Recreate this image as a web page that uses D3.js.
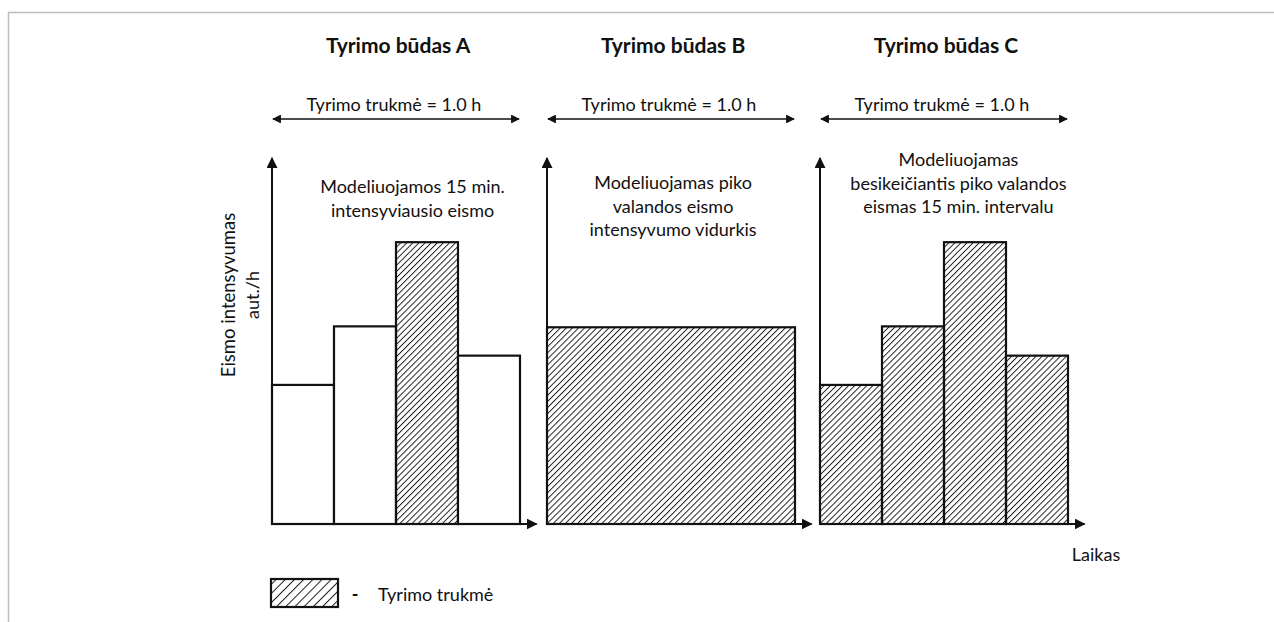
<!DOCTYPE html>
<html>
<head>
<meta charset="utf-8">
<title>Tyrimo būdai</title>
<script src="https://d3js.org/d3.v7.min.js"></script>
<style>
  body { margin: 0; background: #fff; }
  text { font-family: Lato, "Open Sans", sans-serif; fill: #111; }
</style>
</head>
<body>
<svg width="1274" height="622"></svg>
<script>
// ---------------- data ----------------
var panels = ["A", "B", "C"];
var titles = ["Tyrimo būdas A", "Tyrimo būdas B", "Tyrimo būdas C"];
var durationLabel = "Tyrimo trukmė = 1.0 h";
var notes = [
  ["Modeliuojamos 15 min.", "intensyviausio eismo"],
  ["Modeliuojamas piko", "valandos eismo", "intensyvumo vidurkis"],
  ["Modeliuojamas", "besikeičiantis piko valandos", "eismas 15 min. intervalu"]
];
// eismo intensyvumas kas 15 min (santykiniai vienetai)
var intervals = [0, 15, 30, 45];
var flows = [38, 54, 77, 46];
var meanFlow = d3.mean(flows);
// kurie intervalai priskiriami tyrimo trukmei
var hatchedA = [false, false, true, false];
var hatchedC = [true, true, true, true];

// ---------------- layout ----------------
var svg = d3.select("svg");
var baseY = 524, topY = 158;
var originX = { A: 272, B: 547, C: 820 };
var x = d3.scaleLinear().domain([0, 60]).range([0, 248]);
var y = d3.scaleLinear().domain([0, 100]).range([baseY, baseY - 366]);

// rėmelis
svg.append("path")
  .attr("d", "M8.5,622 V12.5 H1274")
  .attr("fill", "none").attr("stroke", "#bdbdbd").attr("stroke-width", 1.5);

var defs = svg.append("defs");
defs.append("pattern")
  .attr("id", "hatch").attr("patternUnits", "userSpaceOnUse")
  .attr("width", 4.3).attr("height", 4.3)
  .attr("patternTransform", "rotate(45)")
  .append("line").attr("x1", 0).attr("y1", 0).attr("x2", 0).attr("y2", 4.3)
  .attr("stroke", "#1a1a1a").attr("stroke-width", 1.9);
defs.append("pattern")
  .attr("id", "hatchBig").attr("patternUnits", "userSpaceOnUse")
  .attr("width", 6.5).attr("height", 6.5)
  .attr("patternTransform", "rotate(45)")
  .append("line").attr("x1", 0).attr("y1", 0).attr("x2", 0).attr("y2", 6.5)
  .attr("stroke", "#1a1a1a").attr("stroke-width", 2);
defs.append("marker")
  .attr("id", "arr").attr("viewBox", "0 0 10 10")
  .attr("refX", 9).attr("refY", 5)
  .attr("markerWidth", 5.5).attr("markerHeight", 5.5)
  .attr("markerUnits", "strokeWidth")
  .attr("orient", "auto-start-reverse")
  .append("path").attr("d", "M0,0 L10,5 L0,10 z").attr("fill", "#111");

panels.forEach(function(p, i) {
  var g = svg.append("g").attr("transform", "translate(" + originX[p] + ",0)");

  var bars;
  if (p === "B") {
    bars = [{ start: 0, end: 60, v: meanFlow, hatched: true }];
  } else {
    var hat = p === "A" ? hatchedA : hatchedC;
    bars = intervals.map(function(t, j) {
      return { start: t, end: t + 15, v: flows[j], hatched: hat[j] };
    });
  }

  g.selectAll("rect.bar").data(bars).enter().append("rect")
    .attr("class", "bar")
    .attr("x", function(d) { return x(d.start); })
    .attr("y", function(d) { return y(d.v); })
    .attr("width", function(d) { return x(d.end) - x(d.start); })
    .attr("height", function(d) { return y(0) - y(d.v); })
    .attr("fill", function(d) { return d.hatched ? "url(#hatch)" : "#fff"; })
    .attr("stroke", "#111").attr("stroke-width", 2.2);

  // ašys
  g.append("line")
    .attr("x1", 0).attr("y1", y(0)).attr("x2", 0).attr("y2", topY)
    .attr("stroke", "#111").attr("stroke-width", 2)
    .attr("marker-end", "url(#arr)");
  g.append("line")
    .attr("x1", 0).attr("y1", y(0)).attr("x2", x(64)).attr("y2", y(0))
    .attr("stroke", "#111").attr("stroke-width", 2)
    .attr("marker-end", "url(#arr)");

  // trukmės rodyklė
  g.append("line")
    .attr("x1", x(0) + 1).attr("y1", 119).attr("x2", x(60) - 1).attr("y2", 119)
    .attr("stroke", "#111").attr("stroke-width", 1.6)
    .attr("marker-start", "url(#arr)").attr("marker-end", "url(#arr)");

  g.append("text")
    .attr("x", x(29.5)).attr("y", 111)
    .attr("text-anchor", "middle").attr("font-size", 18)
    .text(durationLabel);

  g.append("text")
    .attr("x", x(30.5)).attr("y", 53)
    .attr("text-anchor", "middle").attr("font-size", 21).attr("font-weight", "bold")
    .text(titles[i]);

  var noteTop = [193, 189, 166][i];
  var noteCx = [x(34), x(30.5), x(33.5)][i];
  g.selectAll("text.note").data(notes[i]).enter().append("text")
    .attr("class", "note")
    .attr("x", noteCx)
    .attr("y", function(d, k) { return noteTop + k * 23.5; })
    .attr("text-anchor", "middle").attr("font-size", 18)
    .text(function(d) { return d; });
});

// ašių pavadinimai
svg.append("text")
  .attr("transform", "translate(235,295) rotate(-90)")
  .attr("text-anchor", "middle").attr("font-size", 18.5)
  .text("Eismo intensyvumas");
svg.append("text")
  .attr("transform", "translate(259,295) rotate(-90)")
  .attr("text-anchor", "middle").attr("font-size", 18)
  .text("aut./h");
svg.append("text")
  .attr("x", 1096).attr("y", 561)
  .attr("text-anchor", "middle").attr("font-size", 18)
  .text("Laikas");

// legenda
svg.append("rect")
  .attr("x", 271).attr("y", 579).attr("width", 67).attr("height", 28)
  .attr("fill", "url(#hatchBig)").attr("stroke", "#111").attr("stroke-width", 2.2);
svg.append("text").attr("x", 355).attr("y", 601)
  .attr("text-anchor", "middle").attr("font-size", 18).attr("font-weight", "bold").text("-");
svg.append("text").attr("x", 378).attr("y", 601)
  .attr("font-size", 18).text("Tyrimo trukmė");
</script>
</body>
</html>
